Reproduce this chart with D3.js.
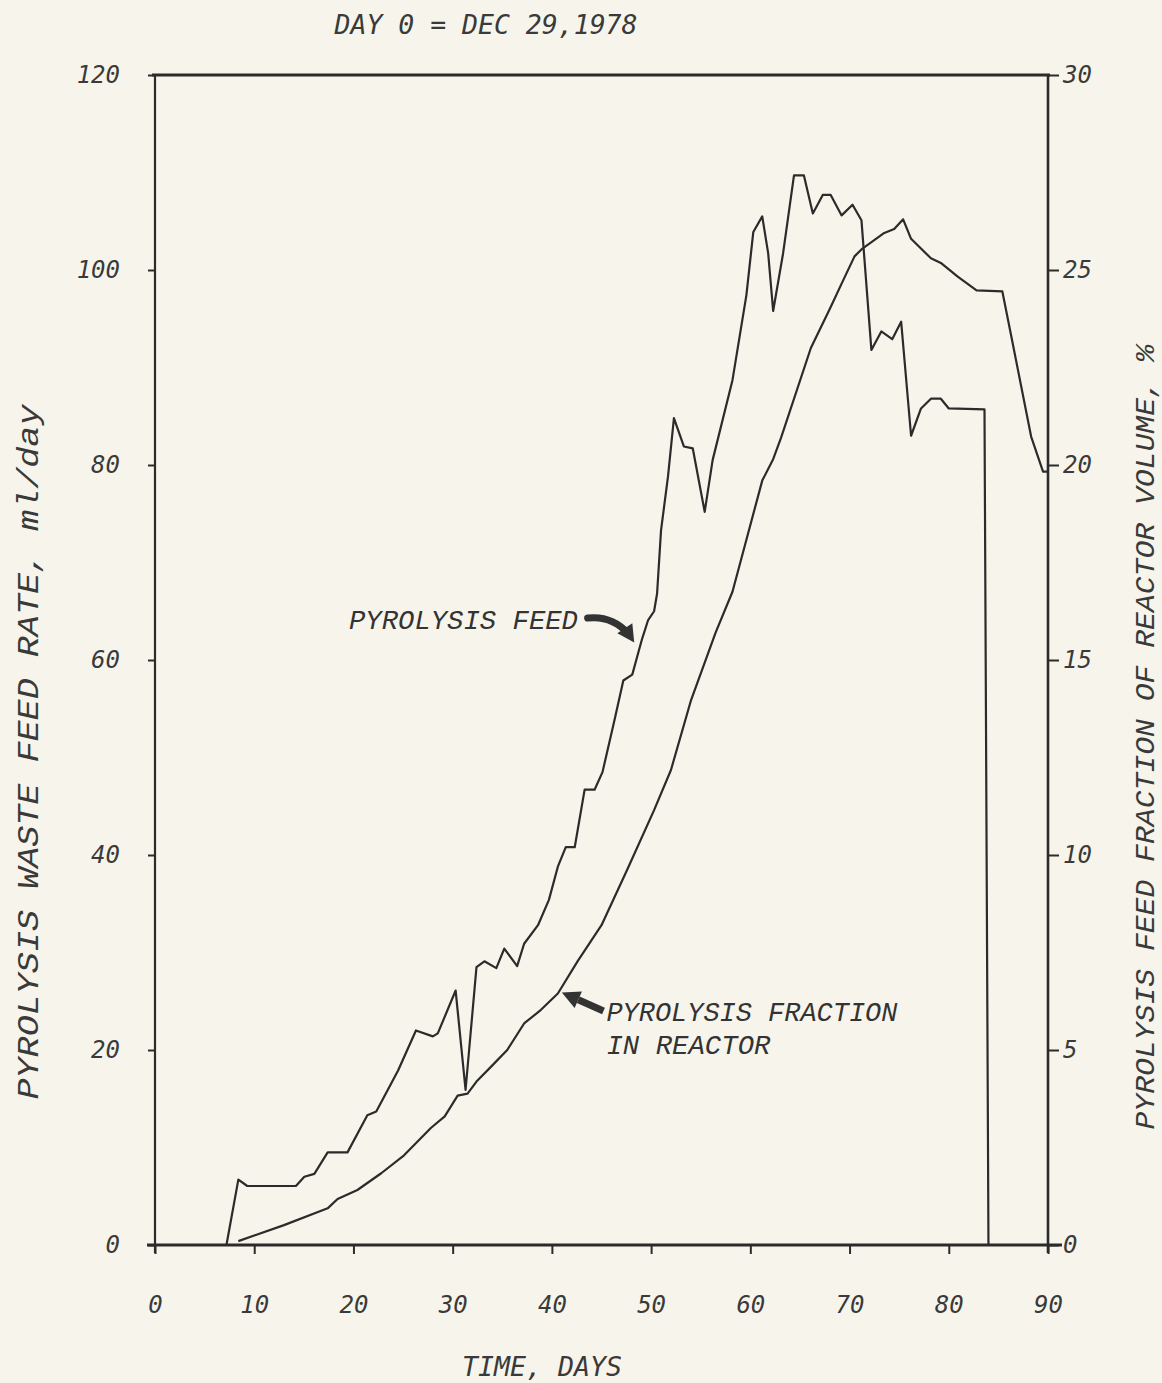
<!DOCTYPE html>
<html>
<head>
<meta charset="utf-8">
<script src="https://cdn.jsdelivr.net/npm/d3@7"></script>
<style>
  html, body { margin: 0; padding: 0; background: #f7f5eb; }
  svg { display: block; }
</style>
</head>
<body>
<svg id="chart" width="1162" height="1383"></svg>
<script>
// ---- Data ----
const xTicks = [0, 10, 20, 30, 40, 50, 60, 70, 80, 90];
const leftTicks = [0, 20, 40, 60, 80, 100, 120];
const rightTicks = [0, 5, 10, 15, 20, 25, 30];

// Pyrolysis feed rate (ml/day) vs day
const feedDays = [0, 7.2, 8.4, 9.3, 14.2, 15.05, 16.06, 17.4, 19.4, 21.4, 22.3, 24.5, 26.3, 28.0, 28.5,
  30.3, 31.3, 32.4, 33.2, 34.4, 35.2, 36.5, 37.2, 38.6, 39.7, 40.6, 41.4, 42.3, 43.3, 44.3, 45.1,
  46.3, 47.2, 48.1, 49.1, 49.7, 50.3, 50.6, 51.0, 51.7, 52.3, 53.3, 54.2, 55.4, 56.2, 58.2, 59.6,
  60.3, 61.2, 61.8, 62.3, 63.3, 64.4, 65.4, 66.3, 67.3, 68.1, 69.2, 70.3, 71.2, 72.2, 73.2, 74.3,
  75.2, 76.2, 77.2, 78.2, 79.2, 80.0, 83.6, 84.0];
const feedRate = [0, 0, 6.7, 6.05, 6.05, 7.0, 7.3, 9.5, 9.5, 13.3, 13.7, 17.9, 22.0, 21.4, 21.7,
  26.1, 15.9, 28.5, 29.1, 28.4, 30.4, 28.6, 30.9, 32.8, 35.4, 38.8, 40.8, 40.8, 46.7, 46.7, 48.5,
  53.8, 57.9, 58.5, 62.2, 64.1, 65.0, 66.8, 73.3, 78.8, 84.8, 81.9, 81.7, 75.2, 80.5, 88.7, 97.4,
  103.9, 105.5, 101.7, 95.8, 101.7, 109.7, 109.7, 105.8, 107.7, 107.7, 105.6, 106.7, 105.1, 91.8, 93.7, 92.9,
  94.7, 83.0, 85.8, 86.8, 86.8, 85.8, 85.7, 0];

// Pyrolysis fraction in reactor (% of reactor volume) vs day
const fracDays = [8.4, 13.0, 17.4, 18.4, 20.4, 22.8, 25.1, 27.8, 29.2, 30.5, 31.5, 32.4, 33.9, 35.5,
  37.2, 38.9, 40.6, 42.6, 45.0, 47.6, 50.3, 52.0, 54.0, 56.5, 58.2, 61.2, 62.3, 63.1, 66.1, 68.1,
  69.2, 70.5, 71.3, 73.5, 74.5, 75.4, 76.2, 78.2, 79.2, 80.9, 82.8, 85.4, 86.3, 88.3, 89.5, 90.0];
const fracPct = [0.1, 0.51, 0.94, 1.18, 1.41, 1.84, 2.3, 3.0, 3.3, 3.83, 3.88, 4.19, 4.58, 5.0,
  5.68, 6.03, 6.45, 7.28, 8.2, 9.63, 11.15, 12.18, 13.95, 15.7, 16.75, 19.6, 20.15, 20.7, 23.0, 24.05,
  24.65, 25.35, 25.55, 25.95, 26.05, 26.3, 25.8, 25.3, 25.18, 24.83, 24.48, 24.45, 23.3, 20.73, 19.83, 19.83];

// ---- Layout ----
const svg = d3.select("#chart");
const X0 = 155, X1 = 1048, Y0 = 1245, Y1 = 75;
const x = d3.scaleLinear().domain([0, 90]).range([X0, X1]);
const yL = d3.scaleLinear().domain([0, 120]).range([Y0, Y1]);
const yR = d3.scaleLinear().domain([0, 30]).range([Y0, Y1]);

const ink = "#2b2b2b";
const tickFont = "'DejaVu Sans Mono', monospace";
const labelFont = "'Liberation Mono', 'Courier New', monospace";

// Frame lines
svg.append("line").attr("x1", x(0) - 3).attr("x2", x(90) + 2).attr("y1", yL(120)).attr("y2", yL(120))
  .attr("stroke", ink).attr("stroke-width", 3);
svg.append("line").attr("x1", x(0)).attr("x2", x(0)).attr("y1", yL(120)).attr("y2", yL(0) + 8)
  .attr("stroke", ink).attr("stroke-width", 2.2);
svg.append("line").attr("x1", x(90)).attr("x2", x(90)).attr("y1", yL(120)).attr("y2", yL(0) + 8)
  .attr("stroke", ink).attr("stroke-width", 2.6);
svg.append("line").attr("x1", x(0) - 8).attr("x2", x(90) + 14).attr("y1", yL(0)).attr("y2", yL(0))
  .attr("stroke", ink).attr("stroke-width", 3);

function styleAxis(g) {
  g.select(".domain").remove();
  g.selectAll(".tick line").attr("stroke", ink).attr("stroke-width", 2);
  g.selectAll(".tick text").attr("fill", "#3a3a3a").attr("font-family", tickFont)
    .attr("font-style", "italic").attr("font-size", 24);
}

// Bottom axis
svg.append("g").attr("transform", `translate(0,${Y0})`)
  .call(d3.axisBottom(x).tickValues(xTicks).tickSize(9).tickPadding(42).tickFormat(d3.format("d")))
  .call(styleAxis);

// Left axis
svg.append("g").attr("transform", `translate(${X0},0)`)
  .call(d3.axisLeft(yL).tickValues(leftTicks).tickSize(7).tickPadding(28).tickFormat(d3.format("d")))
  .call(styleAxis);

// Right axis
svg.append("g").attr("transform", `translate(${X1},0)`)
  .call(d3.axisRight(yR).tickValues(rightTicks).tickSize(11).tickPadding(4).tickFormat(d3.format("d")))
  .call(styleAxis);

// Curves
const feedLine = d3.line().x((d, i) => x(feedDays[i])).y((d, i) => yL(feedRate[i]));
svg.append("path").datum(feedRate).attr("d", feedLine)
  .attr("fill", "none").attr("stroke", ink).attr("stroke-width", 2.2).attr("stroke-linejoin", "round");

const fracLine = d3.line().x((d, i) => x(fracDays[i])).y((d, i) => yR(fracPct[i]));
svg.append("path").datum(fracPct).attr("d", fracLine)
  .attr("fill", "none").attr("stroke", ink).attr("stroke-width", 2.2).attr("stroke-linejoin", "round");

// Title
svg.append("text").attr("x", 486).attr("y", 34).attr("text-anchor", "middle")
  .attr("font-family", tickFont).attr("font-style", "italic").attr("font-size", 27)
  .attr("textLength", 303).attr("lengthAdjust", "spacingAndGlyphs")
  .attr("fill", "#3a3a3a").text("DAY 0 = DEC 29,1978");

// X axis title
svg.append("text").attr("x", 542).attr("y", 1376).attr("text-anchor", "middle")
  .attr("font-family", tickFont).attr("font-style", "italic").attr("font-size", 26)
  .attr("textLength", 160).attr("lengthAdjust", "spacingAndGlyphs")
  .attr("fill", "#3a3a3a").text("TIME, DAYS");

// Left axis title
svg.append("text").attr("transform", `translate(38,752) rotate(-90)`).attr("text-anchor", "middle")
  .attr("font-family", labelFont).attr("font-style", "italic").attr("font-size", 29)
  .attr("textLength", 695).attr("lengthAdjust", "spacingAndGlyphs")
  .attr("fill", "#3a3a3a").text("PYROLYSIS WASTE FEED RATE, ml/day");

// Right axis title
svg.append("text").attr("transform", `translate(1154,737) rotate(-90)`).attr("text-anchor", "middle")
  .attr("font-family", labelFont).attr("font-style", "italic").attr("font-size", 27)
  .attr("textLength", 785).attr("lengthAdjust", "spacingAndGlyphs")
  .attr("fill", "#3a3a3a").text("PYROLYSIS FEED FRACTION OF REACTOR VOLUME, %");

// Annotations
function annText(day, val, str, len) {
  svg.append("text").attr("x", x(day)).attr("y", yL(val))
    .attr("font-family", labelFont).attr("font-style", "italic").attr("font-size", 27)
    .attr("textLength", len).attr("lengthAdjust", "spacingAndGlyphs")
    .attr("fill", "#333").text(str);
}
annText(19.55, 63.2, "PYROLYSIS FEED", 229);
annText(45.5, 23.0, "PYROLYSIS FRACTION", 291);
annText(45.5, 19.6, "IN REACTOR", 164);

// Feed arrow (curved, thick)
const a1 = { sx: x(43.6), sy: yL(64.3), cx: x(46.0), cy: yL(64.6), tx: x(48.3), ty: yL(61.8) };
svg.append("path")
  .attr("d", `M${a1.sx},${a1.sy} Q${a1.cx},${a1.cy} ${a1.tx - 6},${a1.ty - 9}`)
  .attr("fill", "none").attr("stroke", "#333").attr("stroke-width", 7).attr("stroke-linecap", "round");
(function () {
  const tx = a1.tx, ty = a1.ty;
  const ang = Math.atan2(ty - (a1.ty - 12), tx - (a1.tx - 8));
  const L = 17, W = 9;
  const bx = tx - L * Math.cos(ang), by = ty - L * Math.sin(ang);
  const px = -Math.sin(ang) * W, py = Math.cos(ang) * W;
  svg.append("path").attr("d", `M${tx},${ty} L${bx + px},${by + py} L${bx - px},${by - py} Z`).attr("fill", "#333");
})();

// Fraction arrow (straight, thick)
(function () {
  const sx = x(45.2), sy = yL(24.0), tx = x(41.0), ty = yL(25.9);
  const ang = Math.atan2(ty - sy, tx - sx);
  const L = 18, W = 9;
  const bx = tx - L * Math.cos(ang), by = ty - L * Math.sin(ang);
  svg.append("line").attr("x1", sx).attr("y1", sy).attr("x2", bx).attr("y2", by)
    .attr("stroke", "#333").attr("stroke-width", 7);
  const px = -Math.sin(ang) * W, py = Math.cos(ang) * W;
  svg.append("path").attr("d", `M${tx},${ty} L${bx + px},${by + py} L${bx - px},${by - py} Z`).attr("fill", "#333");
})();
</script>
</body>
</html>
